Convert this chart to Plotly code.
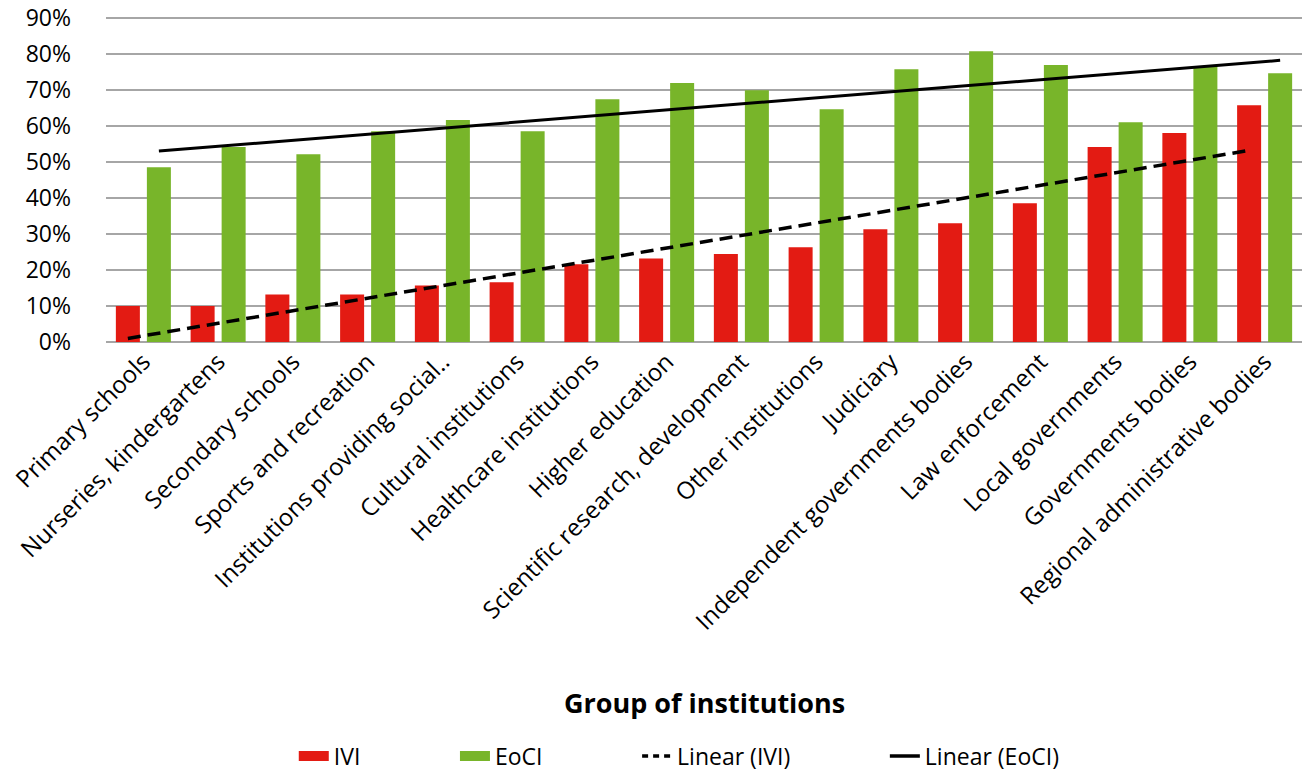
import plotly.graph_objects as go

categories = [
    "Primary schools", "Nurseries, kindergartens", "Secondary schools",
    "Sports and recreation", "Institutions providing social..",
    "Cultural institutions", "Healthcare institutions", "Higher education",
    "Scientific research, development", "Other institutions", "Judiciary",
    "Independent governments bodies", "Law enforcement", "Local governments",
    "Governments bodies", "Regional administrative bodies",
]
ivi = [0.100, 0.100, 0.132, 0.132, 0.157, 0.166, 0.216, 0.232, 0.244, 0.263,
       0.313, 0.330, 0.385, 0.541, 0.580, 0.657]
eoci = [0.485, 0.541, 0.521, 0.585, 0.616, 0.585, 0.674, 0.719, 0.699, 0.646,
        0.757, 0.807, 0.769, 0.610, 0.766, 0.746]
# Linear trendline values at the first and last category
trend_x = [categories[0], categories[-1]]
trend_ivi = [0.010, 0.532]
trend_eoci = [0.530, 0.782]
y_ticks = [0, 0.1, 0.2, 0.3, 0.4, 0.5, 0.6, 0.7, 0.8, 0.9]

RED = "#E31B13"
GREEN = "#78B52A"
FONT = "Open Sans"
PAD = "\u00a0" * 15

fig = go.Figure()
fig.add_trace(go.Bar(name="IVI", x=categories, y=ivi, marker_color=RED,
                     offsetgroup="ivi", marker_line_width=0, showlegend=False))
fig.add_trace(go.Bar(name="EoCI", x=categories, y=eoci, marker_color=GREEN,
                     offsetgroup="eoci", marker_line_width=0, showlegend=False))
fig.add_trace(go.Scatter(name="Linear (IVI)", x=trend_x, y=trend_ivi,
                         mode="lines", offsetgroup="ivi", showlegend=False,
                         line=dict(color="black", width=3.5, dash="13px,7px")))
fig.add_trace(go.Scatter(name="Linear (EoCI)", x=trend_x, y=trend_eoci,
                         mode="lines", offsetgroup="eoci", showlegend=False,
                         line=dict(color="black", width=3)))

# legend entries (wide swatches like the original)
fig.add_trace(go.Scatter(name="IVI" + PAD, x=[None], y=[None], mode="lines",
                         line=dict(color=RED, width=14)))
fig.add_trace(go.Scatter(name="EoCI" + PAD, x=[None], y=[None], mode="lines",
                         line=dict(color=GREEN, width=14)))
fig.add_trace(go.Scatter(name="Linear (IVI)" + PAD, x=[None], y=[None],
                         mode="lines",
                         line=dict(color="black", width=3.5, dash="6px,5px")))
fig.add_trace(go.Scatter(name="Linear (EoCI)", x=[None], y=[None], mode="lines",
                         line=dict(color="black", width=3.5)))

fig.update_layout(
    width=1311, height=790,
    margin=dict(l=106, r=9, t=16, b=448),
    paper_bgcolor="white", plot_bgcolor="white",
    barmode="group", bargap=0.17, bargroupgap=0.226,
    scattermode="group", scattergap=0.17,
    font=dict(family=FONT, size=20, color="black"),
    showlegend=True,
    legend=dict(orientation="h", x=0.157, xanchor="left", y=-1.270,
                yanchor="middle", font=dict(size=23), itemwidth=30,
                traceorder="normal"),
    xaxis=dict(
        type="category", range=[-0.5, 15.5], tickangle=-45,
        tickfont=dict(size=24),
        showgrid=False, ticks="", showline=False,
        automargin=False,
    ),
    yaxis=dict(
        range=[0, 0.905], tickvals=y_ticks, tickformat=".0%",
        showgrid=True, gridcolor="#A6A6A6", gridwidth=2,
        zeroline=True, zerolinecolor="#A6A6A6", zerolinewidth=2,
        ticks="", showline=False, ticklabelstandoff=34,
        tickfont=dict(size=23), automargin=False,
    ),
    annotations=[dict(text="<b>Group of institutions</b>", xref="paper",
                      yref="paper", x=0.5, y=-1.107, xanchor="center",
                      yanchor="middle", showarrow=False,
                      font=dict(size=27, color="black"))],
)

fig.write_html("out.html", config={"displayModeBar": False},
               post_script="document.body.style.margin='0';")
